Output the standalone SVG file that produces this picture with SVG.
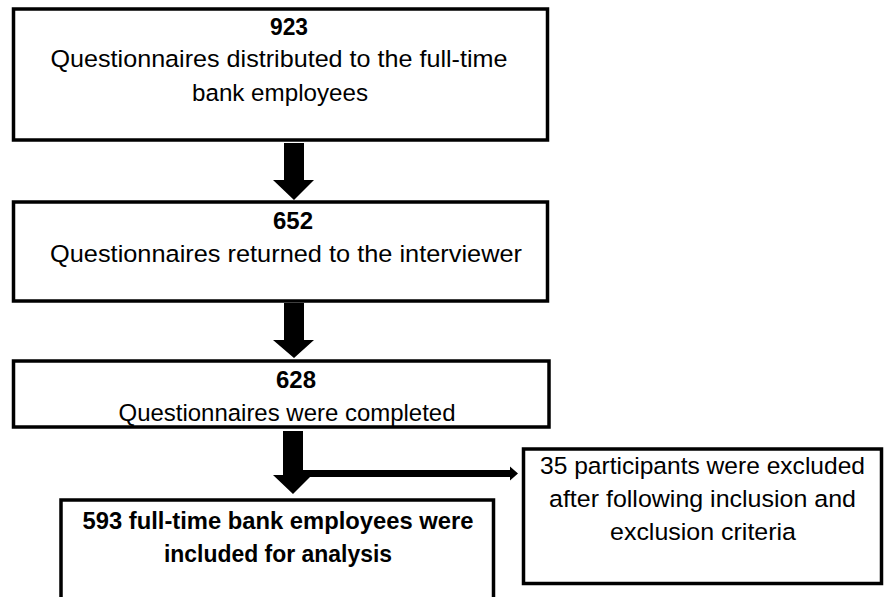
<svg xmlns="http://www.w3.org/2000/svg" width="884" height="597" viewBox="0 0 884 597">
  <style>
    .box { fill: #ffffff; stroke: #000000; stroke-width: 3.5; }
    .t { font-family: "Liberation Sans", Arial, sans-serif; font-size: 24.5px; fill: #000000; text-anchor: middle; }
    .b { font-weight: bold; font-size: 24px; }
    .arrow { fill: #000000; stroke: none; }
  </style>
  <rect x="0" y="0" width="884" height="597" fill="#ffffff"/>

  <g id="connectors">
    <polygon class="arrow" points="284,143 304,143 304,180 314,180 294,200 273,180 284,180"/>
    <polygon class="arrow" points="284,303 304,303 304,340 314,340 294,358 273,340 284,340"/>
    <polygon class="arrow" points="283,431 303,431 303,475 312,475 293,494 273,475 283,475"/>
    <polygon class="arrow" points="303,470 510,470 510,466.5 518,473.5 510,480.5 510,477 303,477"/>
  </g>

  <g id="node-distributed">
    <rect class="box" x="13.5" y="9" width="534" height="131"/>
    <text class="t b" x="289" y="35" textLength="38" lengthAdjust="spacingAndGlyphs">923</text>
    <text class="t" x="279" y="67" textLength="457" lengthAdjust="spacingAndGlyphs">Questionnaires distributed to the full-time</text>
    <text class="t" x="280" y="101" textLength="176" lengthAdjust="spacingAndGlyphs">bank employees</text>
  </g>

  <g id="node-returned">
    <rect class="box" x="13.5" y="202" width="534" height="99"/>
    <text class="t b" x="293" y="229" textLength="40" lengthAdjust="spacingAndGlyphs">652</text>
    <text class="t" x="286" y="262" textLength="472" lengthAdjust="spacingAndGlyphs">Questionnaires returned to the interviewer</text>
  </g>

  <g id="node-completed">
    <rect class="box" x="13.5" y="361" width="535.5" height="66"/>
    <text class="t b" x="296" y="388" textLength="40" lengthAdjust="spacingAndGlyphs">628</text>
    <text class="t" x="287" y="421" textLength="337" lengthAdjust="spacingAndGlyphs">Questionnaires were completed</text>
  </g>

  <g id="node-excluded">
    <rect class="box" x="523.5" y="449" width="358" height="134.5"/>
    <text class="t" x="702.5" y="474" textLength="325" lengthAdjust="spacingAndGlyphs">35 participants were excluded</text>
    <text class="t" x="702.5" y="507" textLength="307" lengthAdjust="spacingAndGlyphs">after following inclusion and</text>
    <text class="t" x="703" y="540" textLength="186" lengthAdjust="spacingAndGlyphs">exclusion criteria</text>
  </g>

  <g id="node-included">
    <rect class="box" x="61" y="500" width="432.5" height="105"/>
    <text class="t b" x="278" y="529" textLength="391" lengthAdjust="spacingAndGlyphs">593 full-time bank employees were</text>
    <text class="t b" x="278" y="562" textLength="228" lengthAdjust="spacingAndGlyphs">included for analysis</text>
  </g>
</svg>
